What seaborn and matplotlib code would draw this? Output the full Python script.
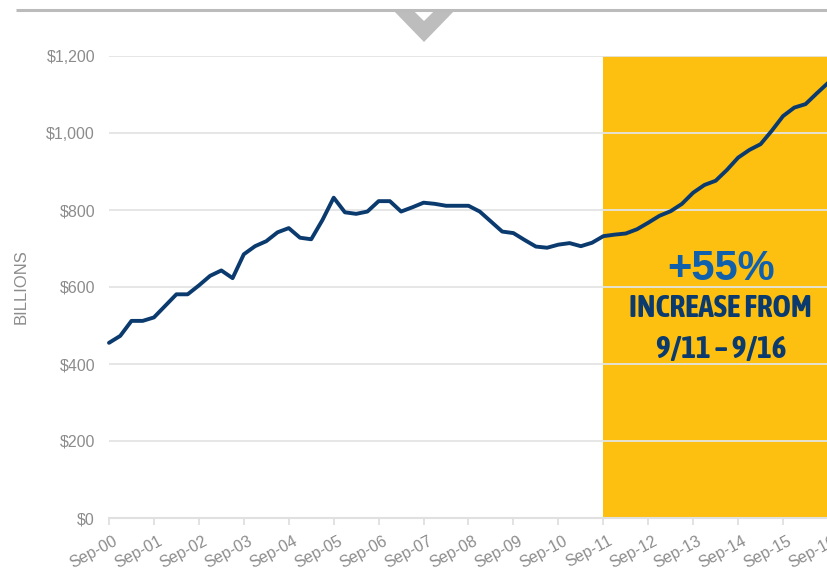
import numpy as np
import pandas as pd
import matplotlib
matplotlib.use("Agg")
import matplotlib.pyplot as plt
from matplotlib import font_manager
from matplotlib.font_manager import FontProperties
from matplotlib.patches import Polygon
from matplotlib.transforms import ScaledTranslation
import seaborn as sns

# Quarterly balance, billions of dollars, Sep-2000 through Sep-2016
balance = [
    455, 473, 512, 512,
    521, 551, 581, 581,
    604, 629, 643, 623,
    685, 706, 719, 742,
    753, 728, 724, 774,
    832, 794, 790, 796,
    823, 823, 796, 807,
    819, 816, 811, 811,
    811, 796, 770, 744,
    740, 722, 705, 702,
    710, 714, 706, 715,
    732, 736, 739, 750,
    767, 785, 797, 816,
    845, 865, 876, 904,
    936, 956, 971, 1006,
    1044, 1066, 1075, 1103,
    1130,
]
year_labels = ["Sep-00", "Sep-01", "Sep-02", "Sep-03", "Sep-04", "Sep-05",
               "Sep-06", "Sep-07", "Sep-08", "Sep-09", "Sep-10", "Sep-11",
               "Sep-12", "Sep-13", "Sep-14", "Sep-15", "Sep-16"]
y_ticks = [0, 200, 400, 600, 800, 1000, 1200]
highlight_start = "Sep-11"
highlight_end = "Sep-16"
headline = "+55%"
subline = "INCREASE FROM\n9/11 \u2013 9/16"

NAVY = "#0B3A6E"
GOLD = "#FDC010"
BLUE = "#1160AC"
GREY_TXT = "#8C8C8C"

sns.set_theme(style="white")
plt.rcParams["font.family"] = ["Liberation Sans", "DejaVu Sans"]


def condensed_bold():
    """Pick a bold (not black) condensed/narrow face if one is installed."""
    cands = []
    for f in font_manager.fontManager.ttflist:
        tag = (f.name + " " + f.fname).lower()
        if "italic" in tag or "oblique" in tag:
            continue
        if ("condensed" in tag or "narrow" in tag or f.stretch in
                ("condensed", "semi-condensed", "extra-condensed")):
            w = f.weight if isinstance(f.weight, int) else 400
            if "black" in tag or "heavy" in tag or "extrabold" in tag:
                w = max(w, 850)
            if w >= 600:
                cands.append((abs(w - 700), f.name, f.fname))
    if cands:
        cands.sort()
        return FontProperties(fname=cands[0][2]), True
    return FontProperties(family="Liberation Sans", weight="bold"), False


sub_font, is_narrow = condensed_bold()

df = pd.DataFrame({"quarter": np.arange(len(balance)), "balance": balance})
q_per_year = 4

fig = plt.figure(figsize=(8.28, 5.71), dpi=100)
ax = fig.add_axes([109 / 828, 53 / 571, 719 / 828, 462 / 571])

x0 = year_labels.index(highlight_start) * q_per_year
x1 = year_labels.index(highlight_end) * q_per_year
ax.axvspan(x0, x1, ymin=0, ymax=1, color=GOLD, zorder=0.2, lw=0)

sns.lineplot(data=df, x="quarter", y="balance", ax=ax, color=NAVY,
             linewidth=2.8, zorder=3, clip_on=False)

ax.set_xlim(0, (len(year_labels) - 1) * q_per_year)
ax.set_ylim(y_ticks[0], y_ticks[-1])
ax.set_yticks(y_ticks)
ax.set_yticklabels([f"${v:,}" for v in y_ticks])
ax.set_xticks(np.arange(len(year_labels)) * q_per_year)
ax.set_xticklabels(year_labels)

ax.set_axisbelow(True)
ax.yaxis.grid(True, color="#E4E4E4", linewidth=1.3)
ax.xaxis.grid(False)
for side in ["top", "right", "left"]:
    ax.spines[side].set_visible(False)
ax.spines["bottom"].set_color("#E0E0E0")
ax.spines["bottom"].set_linewidth(1.5)
ax.spines["bottom"].set_zorder(4)

ax.tick_params(axis="y", length=0, pad=10, labelsize=11.5, labelcolor=GREY_TXT)
ax.tick_params(axis="x", length=5, width=1.2, color="#DDDDDD", direction="out",
               pad=6, labelsize=11.5, labelcolor=GREY_TXT, bottom=True)
shift = ScaledTranslation(4 / 100, 0, fig.dpi_scale_trans)
for lbl in ax.get_xticklabels():
    lbl.set_rotation(28)
    lbl.set_ha("right")
    lbl.set_va("top")
    lbl.set_rotation_mode("anchor")
    lbl.set_transform(lbl.get_transform() + shift)

ax.set_xlabel("")
ax.set_ylabel("BILLIONS", fontsize=12, color=GREY_TXT, labelpad=0)
ax.yaxis.set_label_coords((29 - 109) / 719, 0.5)

# callout text, nudged slightly right of the band centre
xc = (x0 + x1) / 2 + 0.45
ax.text(xc, 648, headline, ha="center", va="center", fontsize=30,
        fontweight="bold", color=BLUE, zorder=5)
sub_size = 22.5 if is_narrow else 15.5
sub_font.set_size(sub_size)
ax.text(xc, 491, subline, ha="center", va="center", fontproperties=sub_font,
        color=NAVY, linespacing=1.38 if is_narrow else 1.95, zorder=5)

# header rule with a downward chevron
over = fig.add_axes([0, 0, 1, 1], zorder=10)
over.set_xlim(0, 828)
over.set_ylim(571, 0)
over.axis("off")
over.patch.set_alpha(0)
over.plot([16, 828], [9.7, 9.7], color="#BBBBBB", lw=2.2, solid_capstyle="butt")
over.add_patch(Polygon([(392, 9), (456, 9), (424, 42)], closed=True,
                       facecolor="#BDBDBD", edgecolor="none"))
over.add_patch(Polygon([(414, 11.2), (434, 11.2), (424, 21)], closed=True,
                       facecolor="white", edgecolor="none"))

fig.savefig("out.png", dpi=100)
